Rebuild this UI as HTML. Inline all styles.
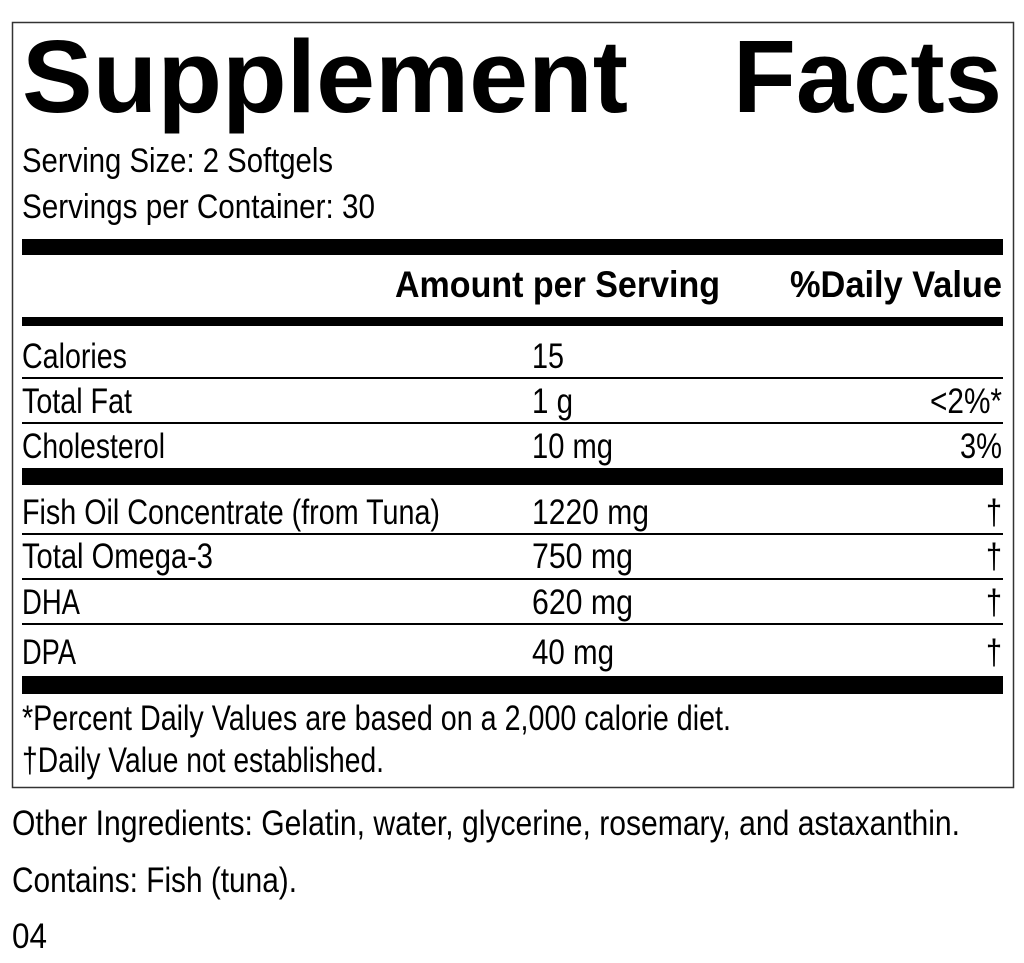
<!DOCTYPE html>
<html><head><meta charset="utf-8"><style>html,body{margin:0;padding:0;background:#fff}svg{display:block}</style></head>
<body>
<svg width="1024" height="963" viewBox="0 0 1024 963" xmlns="http://www.w3.org/2000/svg" font-family="Liberation Sans, sans-serif" fill="#000">
<rect x="12.5" y="22.5" width="1001" height="765" fill="none" stroke="#333" stroke-width="1.5"/>
<text x="22" y="112" font-size="103" font-weight="bold" textLength="606" lengthAdjust="spacingAndGlyphs">Supplement</text>
<text x="733" y="112" font-size="103" font-weight="bold" textLength="269" lengthAdjust="spacingAndGlyphs">Facts</text>
<g font-size="34">
<text x="22" y="172" textLength="311" lengthAdjust="spacingAndGlyphs">Serving Size: 2 Softgels</text>
<text x="22" y="218" textLength="353" lengthAdjust="spacingAndGlyphs">Servings per Container: 30</text>
</g>
<rect x="22" y="239" width="981" height="16"/>
<g font-size="37" font-weight="bold">
<text x="395" y="297" textLength="325" lengthAdjust="spacingAndGlyphs">Amount per Serving</text>
<text x="790" y="297" textLength="212" lengthAdjust="spacingAndGlyphs">%Daily Value</text>
</g>
<rect x="22" y="317" width="981" height="9"/>
<g font-size="35">
<text x="22" y="368" textLength="105" lengthAdjust="spacingAndGlyphs">Calories</text>
<text x="532" y="368" textLength="32" lengthAdjust="spacingAndGlyphs">15</text>
<rect x="22" y="377" width="981" height="2"/>
<text x="22" y="413" textLength="110" lengthAdjust="spacingAndGlyphs">Total Fat</text>
<text x="532" y="413" textLength="41" lengthAdjust="spacingAndGlyphs">1 g</text>
<text x="930" y="413" textLength="72" lengthAdjust="spacingAndGlyphs">&lt;2%*</text>
<rect x="22" y="422" width="981" height="2"/>
<text x="22" y="458" textLength="143" lengthAdjust="spacingAndGlyphs">Cholesterol</text>
<text x="532" y="458" textLength="81" lengthAdjust="spacingAndGlyphs">10 mg</text>
<text x="960" y="458" textLength="42" lengthAdjust="spacingAndGlyphs">3%</text>
<rect x="22" y="468" width="981" height="17"/>
<text x="22" y="524" textLength="418" lengthAdjust="spacingAndGlyphs">Fish Oil Concentrate (from Tuna)</text>
<text x="532" y="524" textLength="117" lengthAdjust="spacingAndGlyphs">1220 mg</text>
<text x="986" y="524" textLength="16" lengthAdjust="spacingAndGlyphs">†</text>
<rect x="22" y="533" width="981" height="2"/>
<text x="22" y="568" textLength="191" lengthAdjust="spacingAndGlyphs">Total Omega-3</text>
<text x="532" y="568" textLength="101" lengthAdjust="spacingAndGlyphs">750 mg</text>
<text x="986" y="568" textLength="16" lengthAdjust="spacingAndGlyphs">†</text>
<rect x="22" y="578" width="981" height="2"/>
<text x="22" y="614" textLength="58" lengthAdjust="spacingAndGlyphs">DHA</text>
<text x="532" y="614" textLength="101" lengthAdjust="spacingAndGlyphs">620 mg</text>
<text x="986" y="614" textLength="16" lengthAdjust="spacingAndGlyphs">†</text>
<rect x="22" y="623" width="981" height="2"/>
<text x="22" y="664" textLength="54" lengthAdjust="spacingAndGlyphs">DPA</text>
<text x="532" y="664" textLength="82" lengthAdjust="spacingAndGlyphs">40 mg</text>
<text x="986" y="664" textLength="16" lengthAdjust="spacingAndGlyphs">†</text>
<rect x="22" y="676" width="981" height="18"/>
<text x="22" y="730" textLength="709" lengthAdjust="spacingAndGlyphs">*Percent Daily Values are based on a 2,000 calorie diet.</text>
<text x="22" y="772" textLength="362" lengthAdjust="spacingAndGlyphs">†Daily Value not established.</text>
<text x="12" y="835" textLength="948" lengthAdjust="spacingAndGlyphs">Other Ingredients: Gelatin, water, glycerine, rosemary, and astaxanthin.</text>
<text x="12" y="892" textLength="285" lengthAdjust="spacingAndGlyphs">Contains: Fish (tuna).</text>
<text x="12" y="948" textLength="35" lengthAdjust="spacingAndGlyphs">04</text>
</g>
</svg>
</body></html>
